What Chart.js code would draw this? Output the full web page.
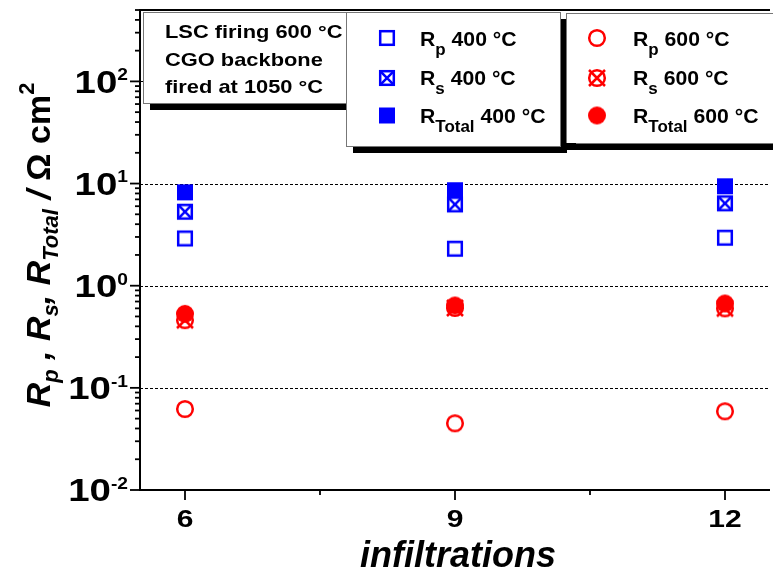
<!DOCTYPE html>
<html lang="en">
  <head>
    <meta charset="UTF-8">
    <script src="https://cdn.jsdelivr.net/npm/chart.js"></script>
    <style>
      html, body { margin: 0; padding: 0; overflow: hidden; background: #fff; }
      canvas { display: block; }
    </style>
  </head>
  <body>
    <canvas id="chart" width="780" height="574"></canvas>
    <script>
      // values
      const infiltrations = [6, 9, 12];
      const rp400 = [2.9, 2.3, 2.95];
      const rs400 = [5.3, 6.25, 6.4];
      const rTotal400 = [8.2, 8.6, 9.4];
      const rp600 = [0.062, 0.045, 0.059];
      const rs600 = [0.46, 0.605, 0.60];
      const rTotal600 = [0.53, 0.64, 0.67];

      const xTicks = [6, 9, 12];
      const xMinorTicks = [7.5, 10.5];
      const yTicks = [0.01, 0.1, 1, 10, 100];
      const yTickExp = ['-2', '-1', '0', '1', '2'];
      const noteLines = ['LSC firing 600 °C', 'CGO backbone', 'fired at 1050 °C'];

      const BLUE = '#0000ff';
      const RED = '#ff0000';
      const FONT = "'Liberation Sans', Arial, sans-serif";

      // marker pictures, used by the chart and by the legend boxes
      function marker(kind, color) {
        const c = document.createElement('canvas');
        c.width = 24; c.height = 24;
        const g = c.getContext('2d');
        g.translate(12, 12);
        g.strokeStyle = color; g.fillStyle = color; g.lineWidth = 2.5;
        const h = 6.8;
        if (kind === 'sqf') {
          g.fillRect(-8, -8, 16, 16);
        } else if (kind === 'sq' || kind === 'sqx') {
          g.strokeRect(-h, -h, 2 * h, 2 * h);
          if (kind === 'sqx') {
            g.beginPath();
            g.moveTo(-h, -h); g.lineTo(h, h);
            g.moveTo(h, -h); g.lineTo(-h, h);
            g.stroke();
          }
        } else if (kind === 'cif') {
          g.beginPath(); g.arc(0, 0, 9, 0, Math.PI * 2); g.fill();
        } else {
          g.beginPath(); g.arc(0, 0, 7.8, 0, Math.PI * 2); g.stroke();
          if (kind === 'cix') {
            g.beginPath();
            g.moveTo(-8, -8); g.lineTo(8, 8);
            g.moveTo(8, -8); g.lineTo(-8, 8);
            g.stroke();
          }
        }
        return c;
      }
      const mk = {
        sq: marker('sq', BLUE), sqx: marker('sqx', BLUE), sqf: marker('sqf', BLUE),
        ci: marker('ci', RED), cix: marker('cix', RED), cif: marker('cif', RED)
      };

      function pts(arr) {
        return infiltrations.map((x, i) => ({ x: x, y: arr[i] }));
      }
      function ds(label, arr, style) {
        return { label: label, data: pts(arr), pointStyle: style, pointRadius: 9, showLine: false };
      }

      // draws text pieces one after another on one baseline (sx stretches it sideways)
      function drawRuns(ctx, runs, x, y, align, sx) {
        const widths = [];
        let w = 0;
        runs.forEach(r => { ctx.font = r[1]; const m = ctx.measureText(r[0]).width; widths.push(m); w += m; });
        ctx.save();
        ctx.translate(x, y);
        ctx.scale(sx || 1, 1);
        let cx = align === 'right' ? -w : align === 'center' ? -w / 2 : 0;
        ctx.textAlign = 'left';
        ctx.textBaseline = 'alphabetic';
        ctx.fillStyle = '#000';
        runs.forEach((r, i) => { ctx.font = r[1]; ctx.fillText(r[0], cx, r[2] || 0); cx += widths[i]; });
        ctx.restore();
      }

      function drawBox(ctx, x1, y1, x2, y2) {
        ctx.fillStyle = '#000';
        ctx.fillRect(x1 + 7, y1 + 7, x2 - x1, y2 - y1);
        ctx.fillStyle = '#fff';
        ctx.fillRect(x1, y1, x2 - x1, y2 - y1);
        ctx.strokeStyle = '#777';
        ctx.lineWidth = 1;
        ctx.strokeRect(x1 + 0.5, y1 + 0.5, x2 - x1, y2 - y1);
      }

      const gridPlugin = {
        id: 'grid',
        beforeDatasetsDraw(chart) {
          const ctx = chart.ctx, a = chart.chartArea, ys = chart.scales.y;
          ctx.save();
          ctx.strokeStyle = '#000';
          ctx.lineWidth = 1;
          ctx.setLineDash([3, 2]);
          yTicks.slice(1).forEach(v => {
            const y = Math.round(ys.getPixelForValue(v)) + 0.5;
            ctx.beginPath(); ctx.moveTo(a.left, y); ctx.lineTo(a.right, y); ctx.stroke();
          });
          ctx.restore();
        }
      };

      const framePlugin = {
        id: 'frame',
        afterDraw(chart) {
          const ctx = chart.ctx, a = chart.chartArea;
          const xs = chart.scales.x, ys = chart.scales.y;
          ctx.save();
          ctx.strokeStyle = '#000';

          // minor / major ticks on the log axis, pointing out
          ctx.lineWidth = 1.8;
          for (let d = -2; d <= 2; d++) {
            for (let m = 1; m <= 9; m++) {
              const v = m * Math.pow(10, d);
              if (v > ys.max) continue;
              const y = ys.getPixelForValue(v);
              ctx.beginPath(); ctx.moveTo(a.left, y); ctx.lineTo(a.left - (m === 1 ? 10 : 5), y); ctx.stroke();
            }
          }
          xTicks.forEach(v => {
            const x = xs.getPixelForValue(v);
            ctx.beginPath(); ctx.moveTo(x, a.bottom); ctx.lineTo(x, a.bottom + 10); ctx.stroke();
          });
          xMinorTicks.forEach(v => {
            const x = xs.getPixelForValue(v);
            ctx.beginPath(); ctx.moveTo(x, a.bottom); ctx.lineTo(x, a.bottom + 5); ctx.stroke();
          });

          // axis frame
          ctx.lineWidth = 2;
          ctx.beginPath();
          ctx.moveTo(a.right, a.top); ctx.lineTo(a.left, a.top);
          ctx.lineTo(a.left, a.bottom); ctx.lineTo(a.right, a.bottom);
          ctx.stroke();

          // tick labels
          yTicks.forEach((v, i) => {
            const y = ys.getPixelForValue(v);
            drawRuns(ctx, [['10', 'bold 32px ' + FONT, 0], [yTickExp[i], 'bold 16px ' + FONT, -12.5]],
              128, y + 11.4, 'right', 1.2);
          });
          xTicks.forEach(v => {
            const x = xs.getPixelForValue(v);
            drawRuns(ctx, [[String(v), 'bold 24px ' + FONT, 0]], x, 527, 'center', 1.25);
          });

          // axis titles
          drawRuns(ctx, [['infiltrations', 'italic bold 36px ' + FONT, 0]], 458, 567, 'center', 1);
          ctx.save();
          ctx.translate(50, 245);
          ctx.rotate(-Math.PI / 2);
          const big = 'italic bold 34px ' + FONT, sub = 'italic bold 22px ' + FONT;
          drawRuns(ctx, [
            ['R', big, 0], ['p', sub, 8], [' , ', big, 0],
            ['R', big, 0], ['s', sub, 8], [', ', big, 0],
            ['R', big, 0], ['Total', sub, 8], [' / ', big, 0],
            ['Ω cm', 'bold 34px ' + FONT, 0], ['2', 'bold 22px ' + FONT, -16]
          ], 0, 0, 'center', 1);
          ctx.restore();

          // note box and the two legend boxes
          drawBox(ctx, 143, 12, 346, 103);
          noteLines.forEach((t, i) => {
            drawRuns(ctx, [[t, 'bold 19px ' + FONT, 0]], 165, [38, 66, 93][i], 'left', 1.15);
          });
          const rows = [38, 78, 115.5], bases = [45.5, 84.5, 122.5];
          const entries = [
            ['p', '400 °C', mk.sq, '600 °C', mk.ci],
            ['s', '400 °C', mk.sqx, '600 °C', mk.cix],
            ['Total', '400 °C', mk.sqf, '600 °C', mk.cif]
          ];
          drawBox(ctx, 346, 12, 560, 146);
          drawBox(ctx, 566, 13, 800, 143);
          ctx.fillStyle = '#000';
          ctx.fillRect(566, 143, 10, 7);
          const leg = 'bold 20px ' + FONT, legSub = 'bold 16px ' + FONT;
          entries.forEach((e, i) => {
            ctx.drawImage(e[2], 387 - 12, rows[i] - 12);
            drawRuns(ctx, [['R', leg, 0], [e[0], legSub, 9], [' ' + e[1], leg, 0]], 420, bases[i], 'left', 1.06);
            ctx.drawImage(e[4], 597 - 12, rows[i] - 12);
            drawRuns(ctx, [['R', leg, 0], [e[0], legSub, 9], [' ' + e[3], leg, 0]], 633, bases[i], 'left', 1.06);
          });
          ctx.restore();
        }
      };

      new Chart(document.getElementById('chart'), {
        type: 'scatter',
        data: {
          datasets: [
            ds('R Total 600 °C', rTotal600, mk.cif),
            ds('R s 600 °C', rs600, mk.cix),
            ds('R p 600 °C', rp600, mk.ci),
            ds('R s 400 °C', rs400, mk.sqx),
            ds('R Total 400 °C', rTotal400, mk.sqf),
            ds('R p 400 °C', rp400, mk.sq)
          ]
        },
        options: {
          responsive: false,
          animation: false,
          layout: { padding: { left: 140, top: 5, right: 0, bottom: 84 } },
          scales: {
            x: { type: 'linear', min: 5.5, max: 12.5, display: false },
            y: { type: 'logarithmic', min: 0.01, max: 500, display: false }
          },
          plugins: {
            legend: { display: false },
            tooltip: { enabled: false }
          }
        },
        plugins: [gridPlugin, framePlugin]
      });
    </script>
  </body>
</html>
